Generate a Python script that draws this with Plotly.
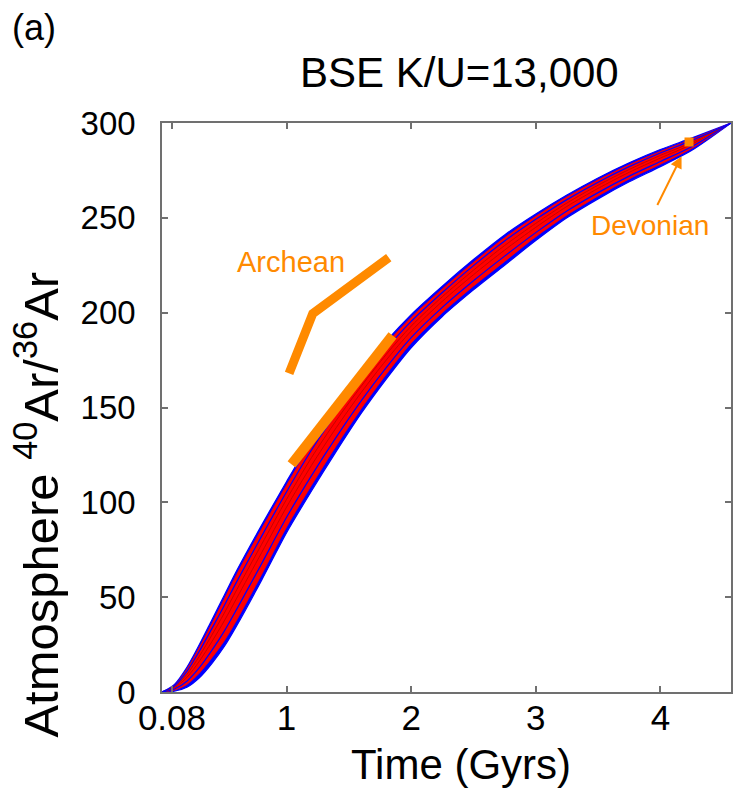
import plotly.graph_objects as go

# Time grid (Gyr) and envelope / model-run values (40Ar/36Ar)
time_gyr = [0, 0.1, 0.2, 0.3, 0.4, 0.5, 0.6, 0.8, 1.0, 1.2, 1.4, 1.6, 1.8, 2.0,
            2.25, 2.5, 2.75, 3.0, 3.25, 3.5, 3.75, 4.0, 4.25, 4.567]
blue_upper = [0, 4, 13, 25, 38, 51, 64, 88, 111, 133, 152, 169, 185, 199,
              214, 228, 241, 252, 262, 271, 279, 286, 292, 300]
blue_lower = [0, 0.5, 2.5, 7.5, 15, 24, 35, 59, 84, 106, 127, 147, 165, 181.5,
              198, 212, 225, 238, 250, 260, 269, 277, 285.5, 300]
red_upper = [0, 3.5, 12, 23.5, 36, 49, 62, 86, 109, 131, 150, 167, 183.5, 197.5,
             212.5, 226.5, 239.5, 250.8, 261, 270, 278, 285, 291.3, 300]
red_lower = [0, 1, 4, 10, 18, 27, 38, 62, 87, 109, 130, 149.5, 167.5, 184,
             200, 214, 227, 240, 251.5, 261.5, 270.5, 278.2, 286.5, 300]
blue_run_a = [0, 1.6, 5.7, 12.8, 21.9, 32.1, 43.7, 67.7, 92.1, 114.1, 134.5, 153.6, 171, 186.8,
              202.8, 216.8, 229.8, 242.2, 253.6, 263.3, 272, 279.7, 287.5, 300]
blue_run_b = [0, 3.3, 10.9, 21.5, 33.4, 45.6, 58.2, 82.2, 105.6, 127.6, 147, 164.6, 181, 195.4,
              210.6, 224.8, 237.8, 249.2, 259.6, 268.8, 277, 284.2, 290.7, 300]
red_run_a = [0, 2.25, 7.75, 16.25, 26.5, 37.5, 49.5, 73.5, 97.5, 119.5, 139.5, 158, 175, 190.3,
             206, 220, 233, 245, 256, 265.5, 274, 281.5, 288.75, 300]
red_run_b = [0, 2.8, 9.3, 18.9, 30, 41.6, 53.9, 77.9, 101.6, 123.6, 143.3, 161.3, 178, 192.9,
             208.4, 222.4, 235.4, 247.1, 257.8, 267.2, 275.5, 282.9, 289.7, 300]

# Archean constraints (two segments) and Devonian point
archean_upper_x = [1.02, 1.21, 1.82]
archean_upper_y = [168, 199.5, 229]
archean_lower_x = [1.04, 1.85]
archean_lower_y = [120, 188]
devonian_x = [4.23]
devonian_y = [290]

x_ticks = [0.08, 1, 2, 3, 4]
x_tick_text = ["0.08", "1", "2", "3", "4"]
y_ticks = [0, 50, 100, 150, 200, 250, 300]

BLUE = "#0000FF"
RED = "#FF0000"
ORANGE = "#FF8A00"
FONT = "Arial, Liberation Sans, sans-serif"
SPL = dict(shape="spline", smoothing=0.8)

fig = go.Figure()

fig.add_trace(go.Scatter(x=time_gyr, y=blue_lower, mode="lines",
                         line=dict(color=BLUE, width=1.2, **SPL), hoverinfo="skip"))
fig.add_trace(go.Scatter(x=time_gyr, y=blue_upper, mode="lines",
                         line=dict(color=BLUE, width=1.2, **SPL),
                         fill="tonexty", fillcolor=BLUE, hoverinfo="skip"))
fig.add_trace(go.Scatter(x=time_gyr, y=red_lower, mode="lines",
                         line=dict(color=RED, width=0.8, **SPL), hoverinfo="skip"))
fig.add_trace(go.Scatter(x=time_gyr, y=red_upper, mode="lines",
                         line=dict(color=RED, width=0.8, **SPL),
                         fill="tonexty", fillcolor=RED, hoverinfo="skip"))
for run in (red_run_a, red_run_b):
    fig.add_trace(go.Scatter(x=time_gyr, y=run, mode="lines",
                             line=dict(color="#C80000", width=1, **SPL),
                             hoverinfo="skip"))
for run in (blue_run_a, blue_run_b):
    fig.add_trace(go.Scatter(x=time_gyr, y=run, mode="lines",
                             line=dict(color=BLUE, width=1.2, **SPL),
                             hoverinfo="skip"))

fig.add_trace(go.Scatter(x=archean_upper_x, y=archean_upper_y, mode="lines",
                         line=dict(color=ORANGE, width=9), hoverinfo="skip"))
fig.add_trace(go.Scatter(x=archean_lower_x, y=archean_lower_y, mode="lines",
                         line=dict(color=ORANGE, width=10), hoverinfo="skip"))
fig.add_trace(go.Scatter(x=devonian_x, y=devonian_y, mode="markers",
                         marker=dict(color=ORANGE, size=9, symbol="square"),
                         hoverinfo="skip"))

fig.add_annotation(x=4.17, y=282.5, ax=3.97, ay=256, xref="x", yref="y",
                   axref="x", ayref="y", text="", showarrow=True,
                   arrowhead=2, arrowsize=1.2, arrowwidth=2, arrowcolor=ORANGE)
fig.add_annotation(x=3.92, y=246, xref="x", yref="y", text="Devonian",
                   showarrow=False, yanchor="middle",
                   font=dict(family=FONT, size=28, color=ORANGE))
fig.add_annotation(x=1.036, y=226.7, xref="x", yref="y", text="Archean",
                   showarrow=False, yanchor="middle",
                   font=dict(family=FONT, size=29, color=ORANGE))

fig.add_annotation(x=0.522, y=1.0896, xref="paper", yref="paper",
                   text="BSE K/U=13,000", showarrow=False, yanchor="middle",
                   font=dict(family=FONT, size=42, color="black"))
fig.add_annotation(x=-0.267, y=1.167, xref="paper", yref="paper", text="(a)",
                   showarrow=False, xanchor="left", yanchor="middle",
                   font=dict(family=FONT, size=36, color="black"))
fig.add_annotation(x=0.525, y=-0.127, xref="paper", yref="paper",
                   text="Time (Gyrs)", showarrow=False, yanchor="middle",
                   font=dict(family=FONT, size=42, color="black"))
fig.add_annotation(x=-0.219, y=0.33, xref="paper", yref="paper",
                   text="Atmosphere <sup>40</sup>Ar/<sup>36</sup>Ar", showarrow=False,
                   textangle=-90, xanchor="center", yanchor="middle",
                   font=dict(family=FONT, size=49, color="black"))

axis_common = dict(showgrid=False, zeroline=False, showline=True,
                   linecolor="#707070", linewidth=1.5, mirror="ticks",
                   ticks="inside", ticklen=6, tickcolor="#707070", tickwidth=1.5)

fig.update_layout(
    width=734, height=798,
    margin=dict(l=162, r=1, t=123, b=106),
    plot_bgcolor="white", paper_bgcolor="white",
    showlegend=False,
    xaxis=dict(range=[0, 4.567], tickvals=x_ticks, ticktext=x_tick_text,
               ticklabelstandoff=-6,
               tickfont=dict(family=FONT, size=35, color="black"), **axis_common),
    yaxis=dict(range=[0, 300], tickvals=y_ticks, ticklabelstandoff=18,
               tickfont=dict(family=FONT, size=33, color="black"), **axis_common),
)

fig.write_html("out.html")
